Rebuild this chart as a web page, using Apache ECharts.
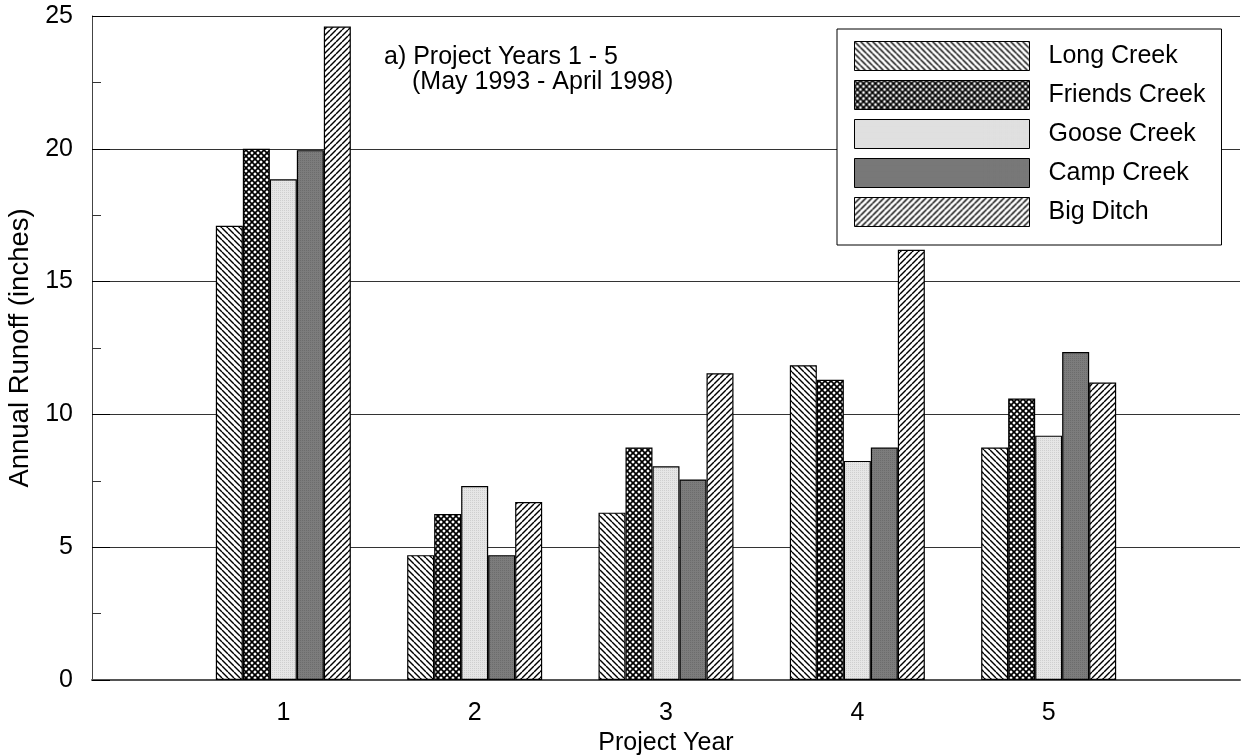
<!DOCTYPE html>
<html>
<head>
<meta charset="utf-8">
<script src="https://cdn.jsdelivr.net/npm/echarts@6/dist/echarts.min.js"></script>
<style>
html,body{margin:0;padding:0;background:#fff;}
#chart{width:1244px;height:756px;}
</style>
</head>
<body>
<div id="chart"></div>
<script>
const categories = ['1', '2', '3', '4', '5'];
const seriesNames = ['Long Creek', 'Friends Creek', 'Goose Creek', 'Camp Creek', 'Big Ditch'];
const longCreek = [17.1, 4.7, 6.3, 11.85, 8.75];
const friendsCreek = [20.0, 6.25, 8.75, 11.3, 10.6];
const gooseCreek = [18.85, 7.3, 8.05, 8.25, 9.2];
const campCreek = [19.95, 4.7, 7.55, 8.75, 12.35];
const bigDitch = [24.6, 6.7, 11.55, 16.2, 11.2];
const yTicks = [0, 5, 10, 15, 20, 25];

function makePattern(kind) {
  const s = 6;
  const c = document.createElement('canvas');
  c.width = s; c.height = s;
  const g = c.getContext('2d');
  if (kind === 'back' || kind === 'fwd' || kind === 'cross') {
    g.fillStyle = '#fff';
    g.fillRect(0, 0, s, s);
    g.strokeStyle = '#000';
    g.lineWidth = kind === 'cross' ? 1.7 : 1.4;
    const drawBack = () => {
      for (let o = -s; o <= s; o += s) {
        g.beginPath(); g.moveTo(o, 0); g.lineTo(o + s, s); g.stroke();
      }
    };
    const drawFwd = () => {
      for (let o = -s; o <= s; o += s) {
        g.beginPath(); g.moveTo(o, s); g.lineTo(o + s, 0); g.stroke();
      }
    };
    if (kind === 'back') drawBack();
    if (kind === 'fwd') drawFwd();
    if (kind === 'cross') { drawBack(); drawFwd(); }
  } else if (kind === 'light') {
    g.fillStyle = '#e6e6e6';
    g.fillRect(0, 0, s, s);
    g.fillStyle = '#cfcfcf';
    for (let x = 0; x < s; x += 2) for (let y = 0; y < s; y += 2) g.fillRect(x, y, 1, 1);
  } else if (kind === 'dark') {
    g.fillStyle = '#7c7c7c';
    g.fillRect(0, 0, s, s);
    g.fillStyle = '#6c6c6c';
    for (let x = 0; x < s; x += 2) for (let y = 0; y < s; y += 2) g.fillRect(x, y, 1, 1);
  }
  return { image: c, repeat: 'repeat' };
}

const patternKinds = ['back', 'cross', 'light', 'dark', 'fwd'];
const allValues = [longCreek, friendsCreek, gooseCreek, campCreek, bigDitch];
const xCats = [''].concat(categories, ['']);

const series = seriesNames.map((name, i) => ({
  name: name,
  type: 'bar',
  barWidth: 27,
  barGap: '0%',
  data: [null].concat(allValues[i], [null]),
  itemStyle: { color: makePattern(patternKinds[i]), borderColor: '#000', borderWidth: 1.2 }
}));

const chart = echarts.init(document.getElementById('chart'), null, { renderer: 'canvas' });
const font = 'Liberation Sans, Arial, sans-serif';
chart.setOption({
  animation: false,
  backgroundColor: '#fff',
  textStyle: { fontFamily: font },
  grid: { left: 92, right: 4, top: 16, bottom: 76, containLabel: false, outerBoundsMode: 'none' },
  legend: {
    show: true,
    orient: 'vertical',
    left: 837,
    top: 29,
    padding: [12, 16, 18, 17],
    itemWidth: 175,
    itemHeight: 29,
    itemGap: 9,
    borderColor: '#000',
    borderWidth: 1,
    backgroundColor: '#fff',
    icon: 'rect',
    textStyle: { fontSize: 25, color: '#000', fontFamily: font, padding: [0, 0, 0, 14] },
    itemStyle: { borderColor: '#000', borderWidth: 1 },
    data: seriesNames
  },
  xAxis: {
    type: 'category',
    data: xCats,
    boundaryGap: false,
    name: 'Project Year',
    nameLocation: 'middle',
    nameGap: 49,
    nameTextStyle: { fontSize: 25, color: '#000', fontFamily: font },
    axisLine: { show: true, lineStyle: { color: '#555', width: 2 } },
    axisTick: { show: false },
    axisLabel: { fontSize: 25, color: '#000', margin: 21, fontFamily: font },
    splitLine: { show: false }
  },
  yAxis: {
    type: 'value',
    min: 0,
    max: 25,
    interval: 5,
    name: 'Annual Runoff (inches)',
    nameLocation: 'middle',
    nameGap: 58,
    nameTextStyle: { fontSize: 27.5, color: '#000', fontFamily: font },
    axisLine: { show: true, lineStyle: { color: '#444', width: 1 } },
    axisTick: { show: true, inside: true, length: 18, lineStyle: { color: '#000' } },
    minorTick: { show: true, splitNumber: 2, length: 9, lineStyle: { color: '#333' } },
    axisLabel: { fontSize: 25, color: '#000', margin: 19, fontFamily: font,
      formatter: v => (yTicks.indexOf(v) >= 0 ? String(v) : '') },
    splitLine: { show: true, lineStyle: { color: '#333', width: 1 } }
  },
  graphic: [
    { type: 'text', left: 384, top: 45, style: { text: 'a) Project Years 1 - 5', fontSize: 25, fill: '#000', fontFamily: font } },
    { type: 'text', left: 412, top: 70, style: { text: '(May 1993 - April 1998)', fontSize: 25, fill: '#000', fontFamily: font } }
  ],
  series: series
});
</script>
</body>
</html>
